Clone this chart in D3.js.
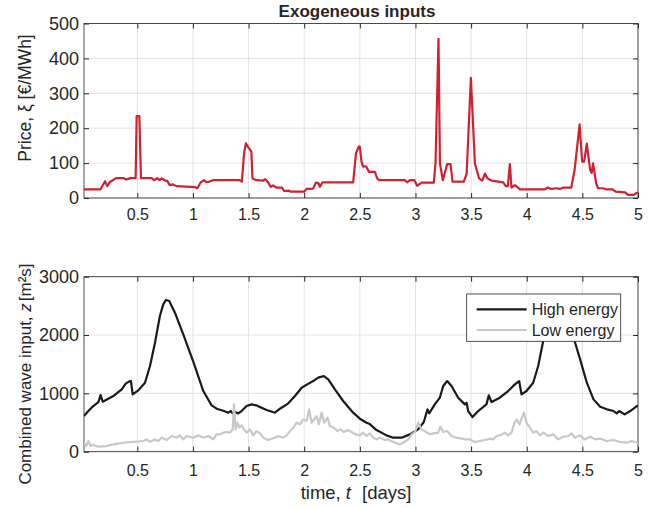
<!DOCTYPE html>
<html>
<head>
<meta charset="utf-8">
<script src="https://cdn.jsdelivr.net/npm/d3@7"></script>
<style>
body { margin: 0; background: #fff; }
svg text { font-family: "Liberation Sans", Arial, Helvetica, sans-serif; fill: #262626; }
</style>
</head>
<body>
<div id="chart"></div>
<script>
/*global d3*/

// price signal [t (days), EUR/MWh]
const priceSeries = [
	[0.02,25],[0.17,25],[0.21,48],[0.23,34],[0.254,46],[0.31,57],[0.374,57],[0.40,53],[0.44,57],[0.485,57],
	[0.494,235],[0.518,235],[0.533,57],[0.629,57],[0.65,51],[0.68,57],[0.70,51],[0.72,56],[0.75,50],[0.77,49],
	[0.79,37],[0.82,39],[0.85,34],[1.02,31],[1.04,28],[1.07,45],[1.10,51],[1.12,45],[1.15,47],[1.18,51],
	[1.42,51],[1.44,47],[1.46,130],[1.476,157],[1.49,148],[1.51,140],[1.525,132],[1.535,56],[1.57,51],[1.63,50],
	[1.65,54],[1.67,47],[1.70,32],[1.72,36],[1.75,30],[1.80,30],[1.82,20],[1.86,21],[1.88,18],[2.00,18],
	[2.02,26],[2.08,27],[2.105,44],[2.13,42],[2.14,32],[2.165,45],[2.20,45],[2.44,45],[2.465,128],[2.49,147],
	[2.50,147],[2.515,104],[2.53,90],[2.555,91],[2.565,85],[2.584,75],[2.635,75],[2.656,56],[2.674,51],[2.905,51],
	[2.925,45],[2.95,51],[2.99,51],[3.015,35],[3.055,44],[3.165,44],[3.18,99],[3.207,456],[3.22,99],[3.246,51],
	[3.285,97],[3.315,97],[3.333,47],[3.435,47],[3.46,70],[3.498,344],[3.534,99],[3.572,56],[3.60,50],[3.624,70],
	[3.648,56],[3.684,50],[3.788,45],[3.812,34],[3.83,34],[3.848,97],[3.863,30],[3.893,37],[3.914,32],[3.938,25],
	[4.163,25],[4.19,30],[4.22,26],[4.27,28],[4.298,26],[4.33,30],[4.40,30],[4.43,80],[4.45,137],[4.475,211],
	[4.498,104],[4.516,104],[4.54,156],[4.57,80],[4.584,72],[4.596,99],[4.624,42],[4.64,28],[4.686,28],[4.71,25],
	[4.77,25],[4.80,18],[4.884,16],[4.91,9],[4.96,9],[4.99,15],[5.0,15]
];

// high energy wave input [t, m^2 s]
const highSeries = [
	[0.02,611],[0.06,697],[0.104,783],[0.15,851],[0.17,971],[0.189,857],[0.284,954],[0.36,1069],[0.398,1171],[0.428,1206],
	[0.443,1211],[0.458,983],[0.509,1051],[0.569,1183],[0.614,1469],[0.659,1869],[0.703,2326],[0.733,2526],[0.757,2600],[0.787,2583],
	[0.838,2383],[0.913,2011],[1.003,1545],[1.093,1040],[1.168,794],[1.213,737],[1.279,697],[1.318,669],[1.339,697],[1.357,657],
	[1.377,680],[1.407,657],[1.437,697],[1.482,783],[1.527,811],[1.572,794],[1.662,714],[1.737,669],[1.782,737],[1.857,829],
	[1.917,954],[1.977,1097],[2.027,1154],[2.081,1211],[2.126,1269],[2.177,1297],[2.216,1240],[2.276,1069],[2.35,869],[2.44,669],
	[2.50,566],[2.56,497],[2.584,480],[2.65,371],[2.74,280],[2.80,240],[2.875,240],[2.95,297],[3.024,383],[3.075,509],
	[3.108,726],[3.123,657],[3.174,811],[3.219,926],[3.249,1126],[3.285,1211],[3.324,1126],[3.384,926],[3.444,811],[3.459,840],
	[3.474,697],[3.513,594],[3.563,697],[3.638,811],[3.659,966],[3.684,851],[3.758,926],[3.833,1040],[3.893,1154],[3.932,1211],
	[3.953,983],[3.998,1040],[4.058,1183],[4.103,1469],[4.148,1897],[4.20,2250],[4.29,2450],[4.38,2250],[4.43,1897],[4.48,1583],
	[4.54,1183],[4.60,897],[4.66,771],[4.72,726],[4.78,697],[4.81,657],[4.83,697],[4.88,640],[4.93,697],[4.99,783],[5.0,790]
];

// low energy wave input [t, m^2 s]
const lowSeries = [
	[0.02,154],[0.04,97],[0.06,183],[0.08,97],[0.10,120],[0.15,86],[0.225,97],[0.284,126],[0.374,154],[0.46,166],
	[0.554,183],[0.584,211],[0.614,170],[0.659,211],[0.689,183],[0.719,240],[0.764,200],[0.809,269],[0.853,240],[0.883,280],
	[0.913,211],[0.943,269],[1.003,240],[1.048,280],[1.093,240],[1.138,269],[1.183,211],[1.213,297],[1.243,297],[1.273,326],
	[1.303,337],[1.333,326],[1.357,383],[1.369,811],[1.384,383],[1.40,497],[1.417,411],[1.437,451],[1.458,383],[1.482,326],
	[1.512,383],[1.542,280],[1.572,354],[1.602,314],[1.632,240],[1.677,200],[1.707,223],[1.737,240],[1.767,269],[1.812,240],
	[1.842,280],[1.872,354],[1.902,411],[1.932,497],[1.962,469],[1.992,554],[2.022,526],[2.045,726],[2.066,497],[2.111,611],
	[2.132,469],[2.156,669],[2.18,497],[2.21,583],[2.23,440],[2.267,411],[2.297,354],[2.327,383],[2.357,337],[2.392,371],
	[2.437,326],[2.462,297],[2.50,280],[2.53,326],[2.56,269],[2.59,314],[2.62,240],[2.65,211],[2.68,240],[2.724,200],
	[2.754,211],[2.80,166],[2.86,126],[2.89,154],[2.935,211],[2.965,297],[2.995,337],[3.024,497],[3.054,383],[3.084,354],
	[3.129,297],[3.159,314],[3.204,326],[3.225,429],[3.249,337],[3.285,354],[3.324,269],[3.369,240],[3.414,223],[3.444,211],
	[3.489,211],[3.534,166],[3.579,183],[3.624,200],[3.668,223],[3.698,211],[3.728,269],[3.758,280],[3.803,326],[3.833,280],
	[3.863,326],[3.89,497],[3.91,554],[3.935,469],[3.975,669],[3.998,497],[4.028,411],[4.058,326],[4.088,354],[4.118,280],
	[4.148,326],[4.193,269],[4.238,297],[4.283,211],[4.328,257],[4.373,269],[4.403,314],[4.433,240],[4.478,280],[4.52,211],
	[4.57,257],[4.615,211],[4.66,223],[4.72,183],[4.78,200],[4.84,166],[4.90,154],[4.94,183],[4.99,154],[5.0,150]
];

const tDomain = [0.0208, 5];
const tTicks = [0.5, 1, 1.5, 2, 2.5, 3, 3.5, 4, 4.5, 5];
const priceTicks = [0, 100, 200, 300, 400, 500];
const waveTicks = [0, 1000, 2000, 3000];
const legendLabels = ["High energy", "Low energy"];

const RED = "#d22030";
const AXIS = "#262626";
const GRID = "#e3e3e3";

let svg = d3.select("#chart")
	.append("svg")
	.attr("width", 664)
	.attr("height", 508);

//Build one MATLAB-like axes box with grid, inward ticks on all sides
let makePanel = function(id, box, yDomain, yTicks){

	let x = d3.scaleLinear().domain(tDomain).range([0, box.width]);
	let y = d3.scaleLinear().domain(yDomain).range([box.height, 0]);

	let g = svg.append("g")
		.attr("transform", "translate(" + box.left + "," + box.top + ")");

	g.append("clipPath")
		.attr("id", id)
		.append("rect")
		.attr("width", box.width)
		.attr("height", box.height);

	// grid
	g.selectAll(".gx")
	.data(tTicks)
	.enter().append("line")
	.attr("x1", d => x(d)).attr("x2", d => x(d))
	.attr("y1", 0).attr("y2", box.height)
	.style("stroke", GRID);

	g.selectAll(".gy")
	.data(yTicks)
	.enter().append("line")
	.attr("x1", 0).attr("x2", box.width)
	.attr("y1", d => y(d)).attr("y2", d => y(d))
	.style("stroke", GRID);

	let xb = g.append("g")
		.attr("transform", "translate(0," + box.height + ")")
		.call(d3.axisBottom(x).tickValues(tTicks).tickSize(-5).tickSizeOuter(0).tickPadding(box.xPad).tickFormat(d3.format("")));
	xb.selectAll("text").style("font-size", "16px");

	g.append("g")
	.call(d3.axisTop(x).tickValues(tTicks).tickSize(-5).tickSizeOuter(0).tickFormat(""));

	let yl = g.append("g")
		.call(d3.axisLeft(y).tickValues(yTicks).tickSize(-5).tickSizeOuter(0).tickPadding(5).tickFormat(d3.format("")));
	yl.selectAll("text").style("font-size", "18px");

	g.append("g")
	.attr("transform", "translate(" + box.width + ",0)")
	.call(d3.axisRight(y).tickValues(yTicks).tickSize(-5).tickSizeOuter(0).tickFormat(""));

	g.selectAll(".domain").remove();
	g.selectAll(".tick line").style("stroke", AXIS);

	g.append("rect")
	.attr("width", box.width)
	.attr("height", box.height)
	.style("fill", "none")
	.style("stroke", AXIS)
	.style("stroke-width", 0.8);

	return {g: g, x: x, y: y};
};

let drawLine = function(panel, id, series, color){
	let line = d3.line()
		.x(d => panel.x(d[0]))
		.y(d => panel.y(d[1]));

	panel.g.append("path")
	.datum(series)
	.attr("clip-path", "url(#" + id + ")")
	.attr("d", line)
	.style("fill", "none")
	.style("stroke", color)
	.style("stroke-width", 2.2)
	.style("stroke-linejoin", "round");
};

// top: price
let pricePanel = makePanel("clipTop", {left: 84, top: 23.5, width: 554, height: 174.5, xPad: 11}, [0, 500], priceTicks);
drawLine(pricePanel, "clipTop", priceSeries, RED);

// bottom: wave input
let wavePanel = makePanel("clipBot", {left: 84, top: 276.7, width: 554, height: 175, xPad: 13}, [0, 3000], waveTicks);
drawLine(wavePanel, "clipBot", highSeries, "#1a1a1a");
drawLine(wavePanel, "clipBot", lowSeries, "#c8c8c8");

// title
svg.append("text")
.attr("x", 357)
.attr("y", 17)
.attr("text-anchor", "middle")
.style("font-size", "17px")
.style("font-weight", "bold")
.text("Exogeneous inputs");

// y labels
svg.append("text")
.attr("transform", "translate(31,98) rotate(-90)")
.attr("text-anchor", "middle")
.style("font-size", "17.5px")
.text("Price, ξ [€/MWh]");

let ylab = svg.append("text")
	.attr("transform", "translate(31,374) rotate(-90)")
	.attr("text-anchor", "middle")
	.style("font-size", "17px");
ylab.append("tspan").text("Combined wave input, ");
ylab.append("tspan").style("font-style", "italic").text("z");
ylab.append("tspan").attr("dx", 2).text("[m²s]");

// x label
let xlab = svg.append("text")
	.attr("x", 356)
	.attr("y", 499)
	.attr("text-anchor", "middle")
	.style("font-size", "18.5px");
xlab.append("tspan").text("time, ");
xlab.append("tspan").style("font-style", "italic").text("t");
xlab.append("tspan").attr("dx", 11).text("[days]");

// legend
let legend = svg.append("g")
	.attr("transform", "translate(466.7,294)");

legend.append("rect")
.attr("width", 154)
.attr("height", 47.3)
.style("fill", "#fff")
.style("stroke", AXIS)
.style("stroke-width", 0.8);

let legendColors = ["#1a1a1a", "#c8c8c8"];
let items = legend.selectAll(".item")
	.data(legendLabels)
	.enter().append("g")
	.attr("transform", (d, i) => "translate(0," + (15.3 + i * 20.7) + ")");

items.append("line")
.attr("x1", 10).attr("x2", 60)
.style("stroke", (d, i) => legendColors[i])
.style("stroke-width", 2.2);

items.append("text")
.attr("x", 65)
.attr("dy", "0.35em")
.style("font-size", "16px")
.text(d => d);
</script>
</body>
</html>
